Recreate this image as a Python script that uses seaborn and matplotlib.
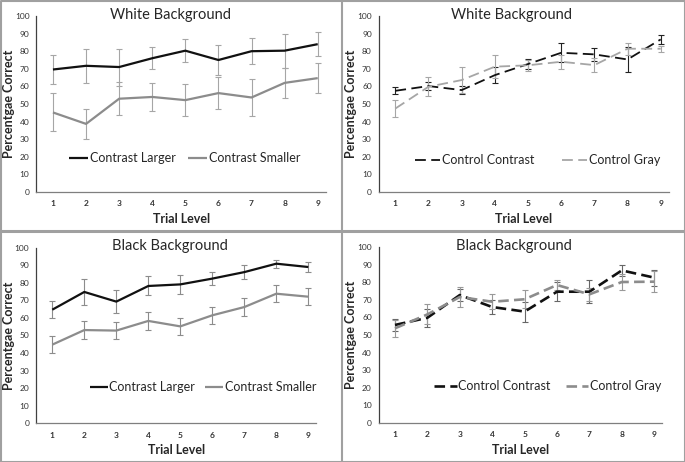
import numpy as np
import pandas as pd
import matplotlib
matplotlib.use('Agg')
import matplotlib.pyplot as plt
from matplotlib.lines import Line2D
import seaborn as sns

# data
trial = [1, 2, 3, 4, 5, 6, 7, 8, 9]

# white background
wb_larger = [69.6, 71.7, 71.0, 76.0, 80.3, 75.0, 80.0, 80.3, 84.0]
wb_larger_err = [8.0, 9.5, 10.5, 6.3, 6.7, 8.3, 7.4, 9.6, 7.0]
wb_smaller = [45.2, 38.7, 53.0, 54.0, 52.2, 56.2, 53.7, 62.0, 64.7]
wb_smaller_err = [10.8, 8.5, 9.5, 8.0, 9.0, 9.0, 10.5, 8.5, 8.5]
wb_ctrl_contrast = [57.5, 60.2, 57.9, 66.4, 72.7, 79.1, 78.2, 75.3, 86.7]
wb_ctrl_contrast_err = [2.0, 2.5, 2.5, 4.5, 2.7, 5.5, 3.5, 7.0, 2.5]
wb_ctrl_gray = [47.4, 59.8, 63.6, 71.2, 72.0, 74.0, 72.1, 81.4, 81.4]
wb_ctrl_gray_err = [5.0, 5.5, 7.4, 6.4, 3.0, 4.0, 3.8, 3.5, 1.6]

# black background
bb_larger = [64.7, 74.8, 69.3, 78.2, 79.1, 82.4, 86.1, 90.9, 89.0]
bb_larger_err = [5.0, 7.4, 6.6, 5.4, 5.3, 3.6, 4.0, 2.3, 2.8]
bb_smaller = [44.8, 53.1, 52.8, 58.3, 55.2, 61.5, 66.2, 73.8, 72.1]
bb_smaller_err = [4.8, 5.2, 5.0, 5.1, 5.0, 5.0, 5.0, 4.8, 5.0]
bb_ctrl_contrast = [55.7, 59.8, 72.7, 65.9, 63.3, 74.6, 74.6, 86.7, 82.6]
bb_ctrl_contrast_err = [3.5, 5.0, 3.5, 4.0, 5.7, 5.4, 6.5, 3.0, 4.5]
bb_ctrl_gray = [53.8, 61.7, 71.6, 68.9, 70.3, 78.4, 73.1, 80.1, 80.3]
bb_ctrl_gray_err = [4.7, 5.7, 5.7, 4.3, 5.0, 3.0, 3.8, 4.3, 6.0]

W, H = 685, 462
sns.set_theme(style='white')
plt.rcParams['font.family'] = ['Lato', 'DejaVu Sans']

fig = plt.figure(figsize=(W / 100, H / 100), dpi=100)
fig.patch.set_facecolor('white')


def px_axes(left, right, top, bottom):
    # pixel box -> figure fraction
    return [left / W, 1 - bottom / H, (right - left) / W, (bottom - top) / H]


def panel(box, title, title_xy, names, values, errs, colors, ecolors,
          dashes, lw, leg_xy, hlen, colspace):
    ax = fig.add_axes(px_axes(*box))
    df = pd.DataFrame({
        'Trial': trial * 2,
        'Score': values[0] + values[1],
        'Group': [names[0]] * 9 + [names[1]] * 9,
    })
    for v, e, ec in zip(values, errs, ecolors):
        ax.errorbar(trial, v, yerr=e, fmt='none', ecolor=ec, elinewidth=0.8,
                    capsize=2.5, capthick=0.8, zorder=1)
    sns.lineplot(data=df, x='Trial', y='Score', hue='Group', style='Group',
                 palette=dict(zip(names, colors)),
                 dashes=dict(zip(names, dashes)), linewidth=lw,
                 ax=ax, zorder=2)
    ax.set_xlim(0.5, 9.25)
    ax.set_ylim(0, 100)
    ax.set_xticks(trial)
    ax.set_yticks(range(0, 101, 10))
    ax.tick_params(axis='both', length=0, labelsize=6, colors='#333333')
    ax.tick_params(axis='x', pad=6)
    ax.tick_params(axis='y', pad=5)
    for lab in ax.get_xticklabels():
        lab.set_fontweight('bold')
    ax.set_xlabel('Trial Level', fontsize=9, fontweight='bold', labelpad=4)
    ax.set_ylabel('Percentgae Correct', fontsize=9, fontweight='bold')
    # y label sits ~27 px left of the spine
    ax.yaxis.set_label_coords(-27.5 / (box[1] - box[0]), 0.5)
    ax.yaxis.label.set_va('center')
    for s in ['top', 'right']:
        ax.spines[s].set_visible(False)
    ax.spines['left'].set_color('#404040')
    ax.spines['bottom'].set_color('#7f7f7f')
    ax.spines['left'].set_linewidth(0.9)
    ax.spines['bottom'].set_linewidth(0.9)
    ax.legend(loc='center left', bbox_to_anchor=(leg_xy[0] / W, 1 - leg_xy[1] / H),
              bbox_transform=fig.transFigure, ncol=2, frameon=False,
              fontsize=9, handlelength=hlen, handletextpad=0.15,
              columnspacing=colspace, borderpad=0, borderaxespad=0)
    fig.text(title_xy[0] / W, 1 - title_xy[1] / H, title, ha='center',
             va='center', fontsize=10.5)
    return ax


solid = (1, 0)
panel((36.4, 326, 16, 192), 'White Background', (170, 15),
      ['Contrast Larger', 'Contrast Smaller'],
      [wb_larger, wb_smaller], [wb_larger_err, wb_smaller_err],
      ['#111111', '#8c8c8c'], ['#a6a6a6', '#a6a6a6'],
      [solid, solid], 1.6, (69, 158), 1.5, 1.0)

panel((378.7, 669, 16, 192), 'White Background', (512, 15),
      ['Control Contrast', 'Control Gray'],
      [wb_ctrl_contrast, wb_ctrl_gray], [wb_ctrl_contrast_err, wb_ctrl_gray_err],
      ['#111111', '#a6a6a6'], ['#222222', '#a6a6a6'],
      [(6, 3), (6, 3)], 1.3, (415, 160), 2.0, 2.2)

panel((36.3, 316.3, 247.7, 423.3), 'Black Background', (169.5, 246),
      ['Contrast Larger', 'Contrast Smaller'],
      [bb_larger, bb_smaller], [bb_larger_err, bb_smaller_err],
      ['#111111', '#8c8c8c'], ['#8c8c8c', '#8c8c8c'],
      [solid, solid], 1.6, (90, 387), 1.4, 0.8)

panel((378.8, 662.3, 247, 423), 'Black Background', (514, 246),
      ['Control Contrast', 'Control Gray'],
      [bb_ctrl_contrast, bb_ctrl_gray], [bb_ctrl_contrast_err, bb_ctrl_gray_err],
      ['#111111', '#8c8c8c'], ['#666666', '#999999'],
      [(4, 2), (4, 2)], 1.9, (434, 386), 1.8, 1.2)

# panel frames like the pasted Excel charts
border = '#a0a0a0'
fig.add_artist(Line2D([0.5 / W, 0.5 / W, 1 - 0.5 / W, 1 - 0.5 / W, 0.5 / W],
                      [0.5 / H, 1 - 0.5 / H, 1 - 0.5 / H, 0.5 / H, 0.5 / H],
                      color=border, lw=1.5, transform=fig.transFigure))
fig.add_artist(Line2D([0, 1], [1 - 231 / H, 1 - 231 / H], color=border, lw=2.2,
                      transform=fig.transFigure))
fig.add_artist(Line2D([342 / W, 342 / W], [0, 1], color=border, lw=1.5,
                      transform=fig.transFigure))

fig.savefig('out.png', dpi=100)
